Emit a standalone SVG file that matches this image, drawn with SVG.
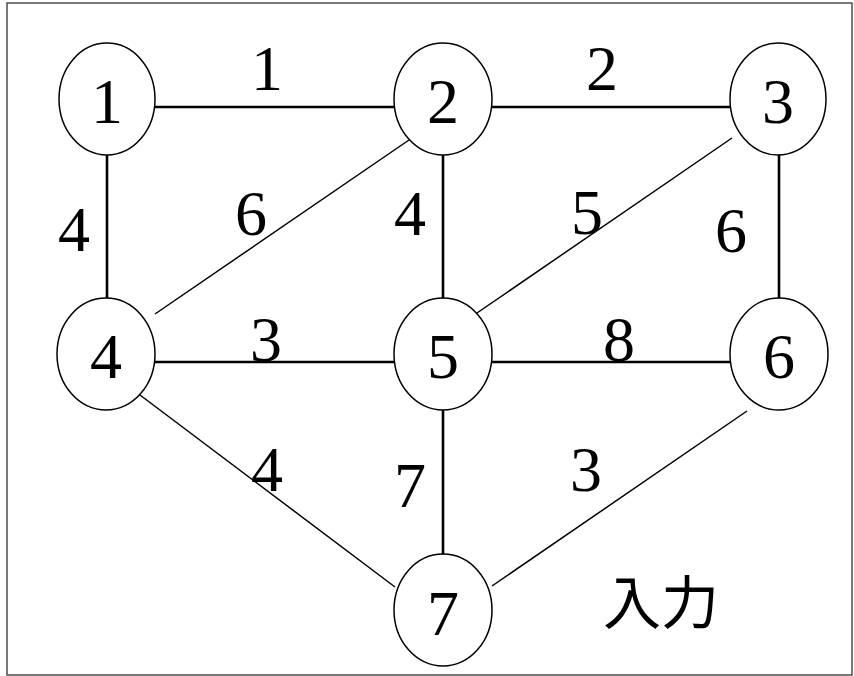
<svg xmlns="http://www.w3.org/2000/svg" width="854" height="676" viewBox="0 0 854 676">
<style>
.frame{fill:#fff;stroke:#333;stroke-width:1.3}
.node ellipse{fill:#fff;stroke:#000;stroke-width:1.5}
.t{font-family:"Liberation Serif","Times New Roman",serif;font-size:64px;fill:#000;text-anchor:middle}
.thick{stroke:#000;stroke-width:2.6;fill:none}
.thin{stroke:#000;stroke-width:1.5;fill:none}
.cjk{font-family:"Noto Sans CJK JP","Noto Sans CJK SC",sans-serif;font-size:58px;fill:#000}
</style>
<rect class="frame" x="7" y="3" width="845" height="672"/>
<g id="connectors">
<line class="thick" x1="155" y1="107" x2="394" y2="107"/>
<line class="thick" x1="492" y1="107" x2="730" y2="107"/>
<line class="thick" x1="155" y1="362" x2="394" y2="362"/>
<line class="thick" x1="492" y1="362" x2="731" y2="362"/>
<line class="thick" x1="107" y1="155" x2="107" y2="298"/>
<line class="thick" x1="443" y1="155" x2="443" y2="298"/>
<line class="thick" x1="779" y1="155" x2="779" y2="298"/>
<line class="thick" x1="443" y1="410" x2="443" y2="554"/>
<line class="thin" x1="409" y1="140" x2="155" y2="314"/>
<line class="thin" x1="732" y1="138" x2="477" y2="313"/>
<line class="thin" x1="140" y1="395" x2="395" y2="587"/>
<line class="thin" x1="747" y1="411" x2="492" y2="586"/>
<text class="t" x="267" y="90">1</text>
<text class="t" x="602" y="90">2</text>
<text class="t" x="74" y="251">4</text>
<text class="t" x="251" y="235">6</text>
<text class="t" x="410" y="235">4</text>
<text class="t" x="587" y="234">5</text>
<text class="t" x="731" y="252">6</text>
<text class="t" x="266" y="361">3</text>
<text class="t" x="619" y="361">8</text>
<text class="t" x="267" y="491">4</text>
<text class="t" x="410" y="507">7</text>
<text class="t" x="586" y="491">3</text>
</g>
<g id="n1" class="node"><ellipse cx="107" cy="99" rx="48" ry="56"/><text class="t" x="107" y="123">1</text></g>
<g id="n2" class="node"><ellipse cx="443" cy="99" rx="49" ry="56"/><text class="t" x="443" y="123">2</text></g>
<g id="n3" class="node"><ellipse cx="778" cy="99" rx="48" ry="56"/><text class="t" x="778" y="123">3</text></g>
<g id="n4" class="node"><ellipse cx="106" cy="354" rx="49" ry="56"/><text class="t" x="106" y="378">4</text></g>
<g id="n5" class="node"><ellipse cx="443" cy="354" rx="49" ry="56"/><text class="t" x="443" y="378">5</text></g>
<g id="n6" class="node"><ellipse cx="779" cy="354" rx="49" ry="56"/><text class="t" x="779" y="378">6</text></g>
<g id="n7" class="node"><ellipse cx="443" cy="610" rx="49" ry="56"/><text class="t" x="443" y="635">7</text></g>
<text class="cjk" x="603" y="624">入力</text>
</svg>
